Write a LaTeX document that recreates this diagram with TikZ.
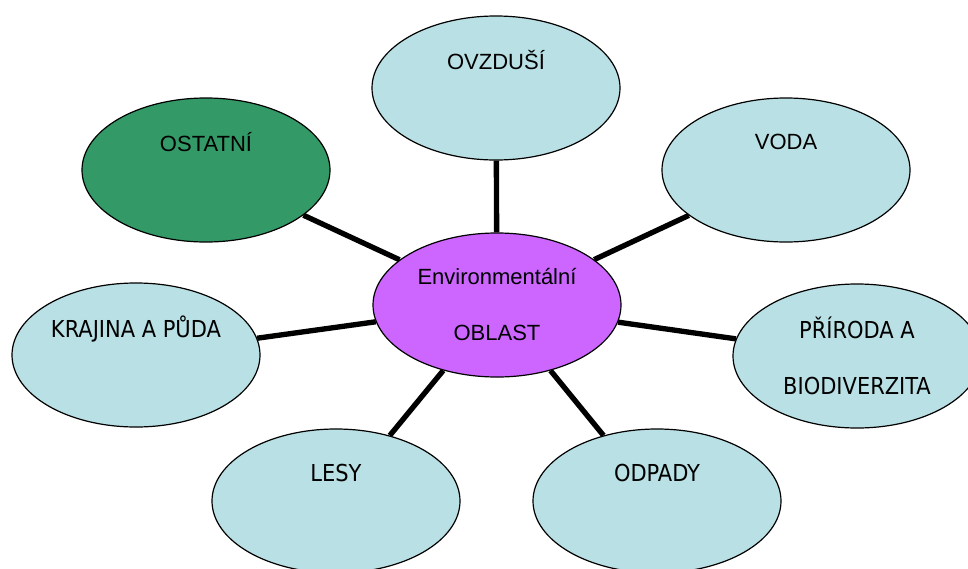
\documentclass[tikz,border=0pt]{standalone}
\usepackage{fontspec}
\setmainfont{Liberation Sans}
\newfontfamily\tahoma{DejaVu Sans Condensed}
\usetikzlibrary{shapes.geometric}
\definecolor{paleteal}{HTML}{B9E0E4}
\definecolor{leafgreen}{HTML}{339966}
\definecolor{hubviolet}{HTML}{CC66FF}
\newcommand{\bigtext}{\fontsize{16.5}{42}\selectfont}
\newcommand{\narrowtext}{\tahoma\fontsize{17.5}{42}\selectfont}
\tikzstyle{topic}=[ellipse, draw, line width=0.9pt, fill=paleteal, minimum width=186pt, minimum height=108pt, inner sep=0pt, align=center, font=\bigtext]
\tikzstyle{narrow}=[font=\narrowtext]
\tikzstyle{link}=[line width=4pt]
\newcommand{\topic}{\node[topic]}

\begin{document}
\begin{tikzpicture}[x=0.75pt,y=-0.75pt]
\useasboundingbox (0,0) rectangle (968,568);
\topic (hub) at (497,305)[fill=hubviolet]{Environmentální\\OBLAST};
\topic (ovzdusi) at (496,88){OVZDUŠÍ\\\mbox{}};
\topic (voda) at (786,170){VODA\\\mbox{}};
\topic (ostatni) at (206,170)[fill=leafgreen]{OSTATNÍ\\\mbox{}};
\topic (krajina) at (136,355)[narrow]{KRAJINA A PŮDA\\\mbox{}};
\topic (priroda) at (857,356)[narrow]{PŘÍRODA A\\BIODIVERZITA};
\topic (lesy) at (336,501)[narrow]{LESY\\\mbox{}};
\topic (odpady) at (657,501)[narrow]{ODPADY\\\mbox{}};
\draw[link] (ovzdusi)--(hub)--(voda);
\draw[link] (ostatni)--(hub)--(priroda);
\draw[link] (krajina)--(hub)--(odpady);
\draw[link] (lesy)--(hub);
\end{tikzpicture}
\end{document}
